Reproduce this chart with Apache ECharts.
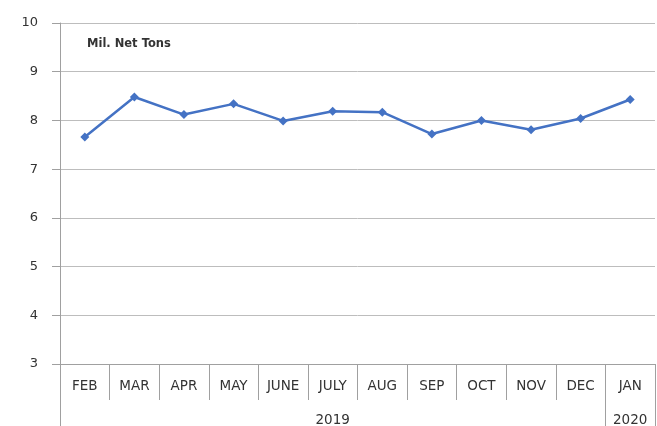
<!DOCTYPE html>
<html>
<head>
<meta charset="utf-8">
<script src="https://cdn.jsdelivr.net/npm/echarts@6/dist/echarts.min.js"></script>
<style>
  html, body { margin: 0; padding: 0; background: #fff; }
  #chart { width: 657px; height: 426px; }
</style>
</head>
<body>
<div id="chart"></div>
<script>
// months (top row of x axis) and years (bottom row)
const months = ['FEB', 'MAR', 'APR', 'MAY', 'JUNE', 'JULY', 'AUG', 'SEP', 'OCT', 'NOV', 'DEC', 'JAN'];
const yearLabels = ['', '', '', '', '', '2019', '', '', '', '', '', '2020'];
// values, million net tons
const tons = [7.66, 8.48, 8.12, 8.34, 7.99, 8.19, 8.17, 7.72, 8.0, 7.81, 8.04, 8.43];

const chart = echarts.init(document.getElementById('chart'));
const gray = '#a0a0a0';
const font = 'DejaVu Sans';

chart.setOption({
  animation: false,
  title: {
    text: 'Mil. Net Tons',
    left: 82,
    top: 33,
    textStyle: { fontSize: 11.5, fontWeight: 'bold', color: '#333', fontFamily: font }
  },
  grid: { left: 60, right: 2, top: 23, bottom: 62, outerBoundsMode: 'none' },
  xAxis: [
    {
      type: 'category',
      data: months,
      position: 'bottom',
      axisLine: { lineStyle: { color: gray } },
      axisTick: { show: true, length: 36, lineStyle: { color: gray } },
      axisLabel: { color: '#333', fontSize: 13.5, fontFamily: font, margin: 15, interval: 0 }
    },
    {
      type: 'category',
      data: yearLabels,
      position: 'bottom',
      offset: 36,
      axisLine: { show: false },
      axisTick: {
        show: true,
        length: 26,
        interval: function (i) { return i === 0 || i === 11 || i === 12; },
        lineStyle: { color: gray }
      },
      axisLabel: { color: '#333', fontSize: 13.5, fontFamily: font, margin: 13, interval: 0 }
    }
  ],
  yAxis: {
    type: 'value',
    min: 3,
    max: 10,
    interval: 1,
    axisLine: { show: true, lineStyle: { color: gray } },
    axisTick: { show: true, length: 8, lineStyle: { color: gray } },
    axisLabel: { color: '#333', fontSize: 13, fontFamily: font, margin: 22 },
    splitLine: { lineStyle: { color: '#bdbdbd' } }
  },
  series: [
    {
      type: 'line',
      data: tons,
      symbol: 'diamond',
      symbolSize: 9,
      showAllSymbol: true,
      lineStyle: { color: '#4472C4', width: 2.5 },
      itemStyle: { color: '#4472C4' }
    }
  ]
});
</script>
</body>
</html>
